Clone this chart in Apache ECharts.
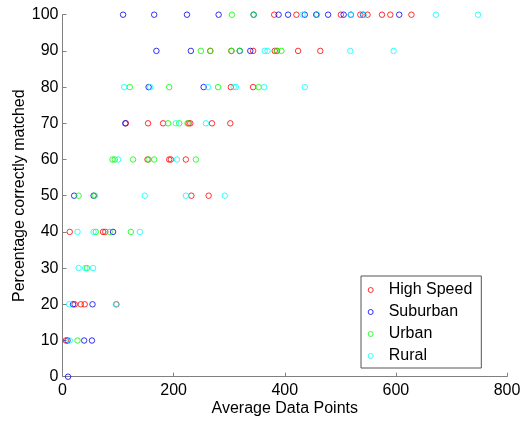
<!DOCTYPE html>
<html>
<head>
<meta charset="utf-8">
<script src="https://cdn.jsdelivr.net/npm/echarts@6/dist/echarts.min.js"></script>
<style>
html,body{margin:0;padding:0;background:#fff;}
#chart{width:523px;height:421px;}
</style>
</head>
<body>
<div id="chart"></div>
<script>
var seriesNames = ['High Speed', 'Suburban', 'Urban', 'Rural'];
var seriesColors = ['#ff0000', '#0000ff', '#00ff00', '#00ffff'];
var xTicks = [0, 200, 400, 600, 800];
var yTicks = [0, 10, 20, 30, 40, 50, 60, 70, 80, 90, 100];

var highSpeed = [
  [381,100],[421,100],[457,100],[501,100],[536,100],[549,100],[575,100],[590,100],[628,100],
  [266,90],[304,90],[343,90],[382,90],[386,90],[424,90],[464,90],
  [303,80],[343,80],
  [114,70],[154,70],[181,70],[227,70],[230,70],[269,70],[302,70],
  [153,60],[192,60],[195,60],[222,60],
  [232,50],[263,50],
  [13,40],[73,40],[77,40],
  [22,20],[33,20],[40,20],[97,20],
  [6,10]
];
var suburban = [
  [109,100],[165,100],[224,100],[281,100],[344,100],[389,100],[406,100],[436,100],[457,100],[478,100],[506,100],[519,100],[541,100],[606,100],
  [169,90],[231,90],[319,90],[338,90],
  [155,80],[254,80],
  [113,70],
  [21,50],[56,50],
  [91,40],
  [19,20],[54,20],
  [9,10],[39,10],[53,10],
  [10,0]
];
var urban = [
  [305,100],[344,100],
  [249,90],[266,90],[304,90],[319,90],[386,90],[394,90],
  [121,80],[192,80],[280,80],[353,80],
  [190,70],[210,70],[225,70],
  [90,60],[94,60],[127,60],[155,60],[165,60],[240,60],
  [29,50],[58,50],
  [60,40],[85,40],[123,40],
  [44,30],
  [27,10]
];
var rural = [
  [432,100],[458,100],[519,100],[542,100],[672,100],[748,100],
  [364,90],[369,90],[518,90],[596,90],
  [111,80],[158,80],[262,80],[308,80],[312,80],[363,80],[436,80],
  [204,70],[258,70],
  [100,60],[206,60],
  [148,50],[222,50],[292,50],
  [27,40],[56,40],[139,40],
  [29,30],[41,30],[55,30],
  [12,20],[96,20],
  [13,10]
];
var seriesData = [highSpeed, suburban, urban, rural];

var chart = echarts.init(document.getElementById('chart'), null, {renderer: 'canvas'});
var font = 'Liberation Sans, Arial, Helvetica, sans-serif';
var axisColor = '#808080';

var option = {
  animation: false,
  backgroundColor: '#ffffff',
  grid: {left: 62.5, right: 16, top: 14.7, bottom: 44.3, containLabel: false, outerBoundsMode: 'none'},
  xAxis: {
    type: 'value', min: xTicks[0], max: xTicks[xTicks.length - 1], interval: 200,
    name: 'Average Data Points', nameLocation: 'middle', nameGap: 24, nameMoveOverlap: false,
    nameTextStyle: {color: '#000', fontSize: 16, fontFamily: font},
    axisLine: {show: true, onZero: false, lineStyle: {color: axisColor, width: 1}},
    axisTick: {show: true, inside: true, length: 4, lineStyle: {color: axisColor}},
    axisLabel: {color: '#000', fontSize: 16, fontFamily: font, margin: 6},
    splitLine: {show: false}
  },
  yAxis: {
    type: 'value', min: yTicks[0], max: yTicks[yTicks.length - 1], interval: 10,
    name: 'Percentage correctly matched', nameLocation: 'middle', nameGap: 35, nameMoveOverlap: false,
    nameTextStyle: {color: '#000', fontSize: 16, fontFamily: font},
    axisLine: {show: true, onZero: false, lineStyle: {color: axisColor, width: 1}},
    axisTick: {show: true, inside: true, length: 4, lineStyle: {color: axisColor}},
    axisLabel: {color: '#000', fontSize: 16, fontFamily: font, margin: 4},
    splitLine: {show: false}
  },
  legend: {
    orient: 'vertical',
    left: 361, top: 276,
    padding: [6, 9, 4, 6.7],
    itemWidth: 30, itemHeight: 5, itemGap: 6,
    backgroundColor: '#ffffff',
    borderColor: '#555555', borderWidth: 1,
    icon: 'circle',
    textStyle: {color: '#000', fontSize: 16, fontFamily: font, padding: [0, 0, 0, -2]},
    data: seriesNames.map(function (n, i) {
      return {name: n, itemStyle: {color: 'transparent', borderColor: seriesColors[i], borderWidth: 1}};
    })
  },
  series: seriesNames.map(function (n, i) {
    return {
      name: n, type: 'scatter', data: seriesData[i],
      symbol: 'circle', symbolSize: 5.5, clip: false,
      itemStyle: {color: 'transparent', borderColor: seriesColors[i], borderWidth: 1},
      emphasis: {disabled: true}
    };
  })
};
chart.setOption(option);
</script>
</body>
</html>
